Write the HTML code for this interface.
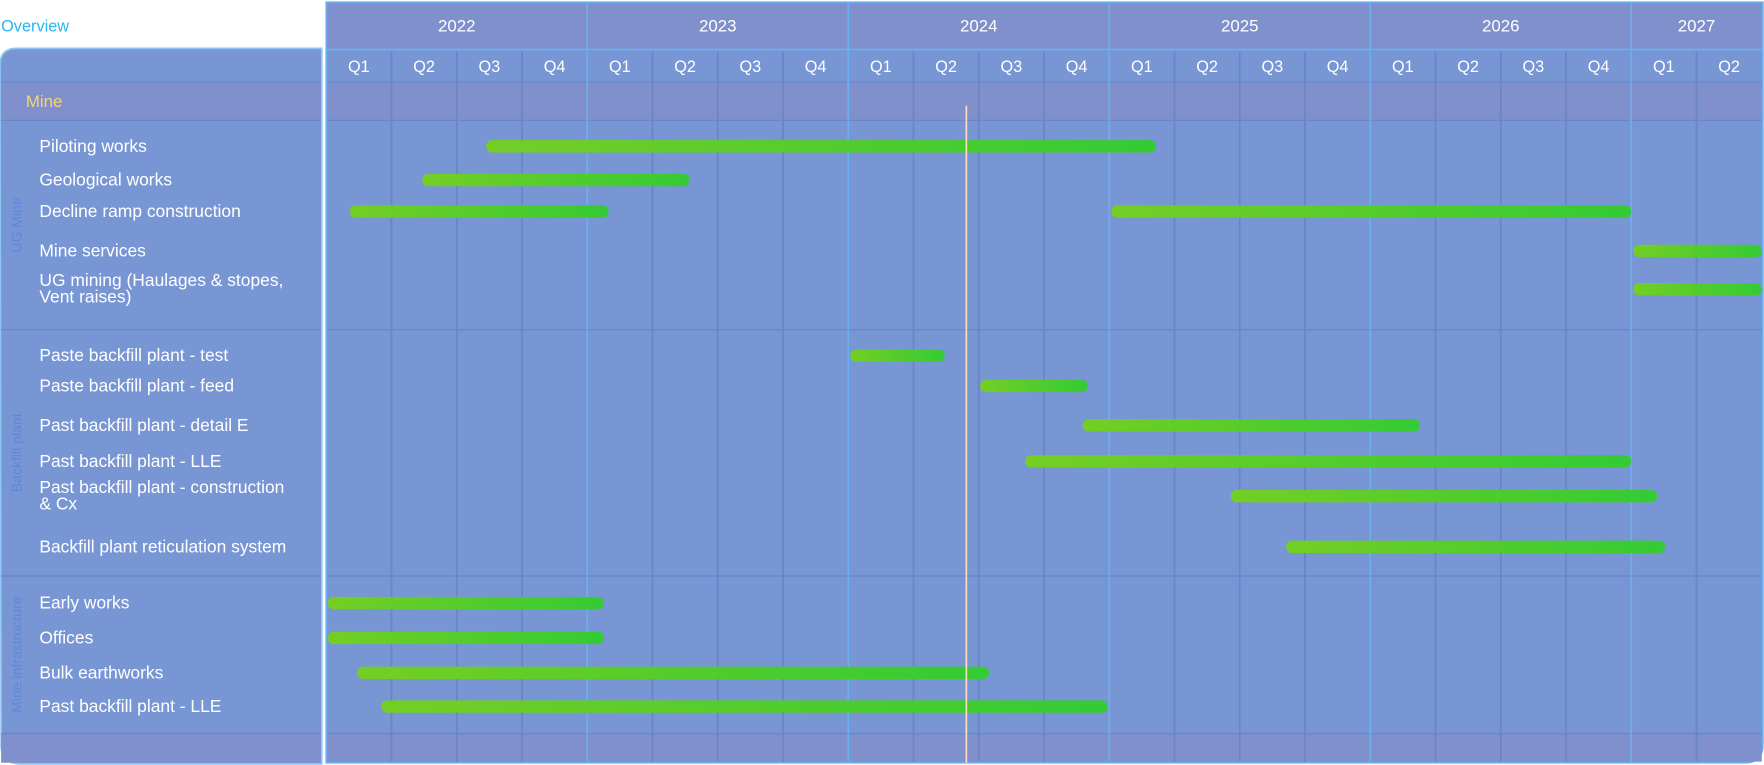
<!DOCTYPE html>
<html><head><meta charset="utf-8"><style>
html,body{margin:0;padding:0;background:#fff;}
svg{display:block;font-family:"Liberation Sans",sans-serif;}
</style></head><body>
<svg id="g" width="1764" height="765" viewBox="0 0 1568 680" xmlns="http://www.w3.org/2000/svg">
<defs>
<linearGradient id="bar" x1="0" x2="1" y1="0" y2="0"><stop offset="0" stop-color="#74ce24"/><stop offset="1" stop-color="#34cb34"/></linearGradient>
</defs>
<text x="1" y="28" font-size="14.5" fill="#2cb4f0">Overview</text>
<path d="M0,58 Q0,43 15,43 L286,43 L286,679 L18,679 Q1,679 1,662 Z" fill="#7896d4" stroke="#8cc4f4" stroke-width="1.5"/>
<rect x="1" y="73" width="284" height="34" fill="#8090cc"/>
<rect x="1" y="652" width="284" height="26" fill="#8090cc"/>
<path d="M290,2 L1567,2 L1567,662 Q1567,678 1551,678 L290,678 Z" fill="#7896d4" stroke="#6ab0f0" stroke-width="1.5"/>
<rect x="291" y="3" width="1275" height="41" fill="#8090cc"/>
<rect x="291" y="73" width="1275" height="34" fill="#8090cc"/>
<rect x="291" y="652" width="1275" height="25" fill="#8090cc"/>
<g id="grid"></g><g id="labels"></g><g id="bars"></g>
</svg>
<script>
const years=["2022","2023","2024","2025","2026","2027"];
const quarters=["Q1","Q2","Q3","Q4"];
const taskNames=["Piloting works","Geological works","Decline ramp construction","Mine services","UG mining (Haulages & stopes,|Vent raises)","Paste backfill plant - test","Paste backfill plant - feed","Past backfill plant - detail E","Past backfill plant - LLE","Past backfill plant - construction|& Cx","Backfill plant reticulation system","Early works","Offices","Bulk earthworks","Past backfill plant - LLE"];
const taskStart=[[2.45],[1.47],[0.36,12.03],[20.03],[20.03],[8.03],[10.02],[11.59],[10.71],[13.86],[14.71],[0.02],[0.02],[0.47],[0.84]];
const taskEnd=[[12.72],[5.57],[4.33,20.0],[22],[22],[9.48],[11.67],[16.76],[20],[20.4],[20.52],[4.26],[4.26],[10.16],[11.98]];
const groups=["UG Mine","Backfill plant","Mine infrastructure"];
const todayQ=9.81;
const totalQ=22;
const rowY=[130,160,188,223,257,316,343,378,410,441,486,536,567,598,628];
const groupBounds=[[107,293],[293,512],[512,652]];
const NS="http://www.w3.org/2000/svg";
const X0=290,QW=58;
const xq=q=>X0+q*QW;
function mk(t,a,p){const e=document.createElementNS(NS,t);for(const k in a)e.setAttribute(k,a[k]);p.appendChild(e);return e;}
const grid=document.getElementById('grid'),lab=document.getElementById('labels'),bars=document.getElementById('bars');
function hline(y,name){
 [[1,285],[291,1566]].forEach(s=>{
  const l=mk('line',{x1:s[0],x2:s[1],y1:y,y2:y,stroke:'#6a84c8','stroke-width':1.2},grid);
  
  
 });
}
groupBounds.forEach((b,i)=>{
 hline(b[1],'group-separator');
 const cy=(b[0]+b[1])/2;
 const t=mk('text',{x:0,y:0,transform:`translate(19,${cy}) rotate(-90)`,'text-anchor':'middle','font-size':12.5,fill:'#5f86dc'},lab);
 t.textContent=groups[i];
 
 
});
[73,107].forEach(y=>hline(y,'row-separator'));
for(let q=1;q<totalQ;q++){
 if(q%4===0)continue;
 const l=mk('line',{x1:xq(q),x2:xq(q),y1:46,y2:677,stroke:'#6a84c8','stroke-width':1.5},grid);
 
 
}
mk('line',{x1:291,x2:1566,y1:44,y2:44,stroke:'#6ab0f0','stroke-width':1.5},grid);
for(let q=4;q<totalQ;q+=4){
 const l=mk('line',{x1:xq(q),x2:xq(q),y1:2,y2:677,stroke:'#6ab0f0','stroke-width':1.5},grid);
 
 
}
years.forEach((y,i)=>{
 const s=i*4,e=Math.min(totalQ,s+4);
 const t=mk('text',{x:(xq(s)+xq(e))/2,y:28,'text-anchor':'middle','font-size':15,fill:'#fff'},lab);
 t.textContent=y;
 
 
});
for(let q=0;q<totalQ;q++){
 const t=mk('text',{x:xq(q)+QW/2,y:64,'text-anchor':'middle','font-size':14.5,fill:'#fff'},lab);
 t.textContent=quarters[q%4];
 
 
}
const m=mk('text',{x:23,y:95,'font-size':15,fill:'#f7d66a'},lab);m.textContent="Mine";


taskNames.forEach((n,i)=>{
 const parts=n.split('|');
 const t=mk('text',{x:35,y:rowY[i]+5-(parts.length>1?8:0),'font-size':15.5,fill:'#fff'},lab);
 
 
 parts.forEach((p,j)=>{const s=mk('tspan',{x:35,dy:j?15:0},t);s.textContent=p;});
 taskStart[i].forEach((s,k)=>{
  const e=taskEnd[i][k];
  const r=mk('rect',{x:xq(s),y:rowY[i]-5.5,width:xq(e)-xq(s),height:11,rx:5.5,fill:'url(#bar)'},bars);
  
  
 });
});
const tl=mk('line',{x1:xq(todayQ),x2:xq(todayQ),y1:94,y2:678,stroke:'#fcdcbc','stroke-width':1.5},bars);


</script>
</body></html>
